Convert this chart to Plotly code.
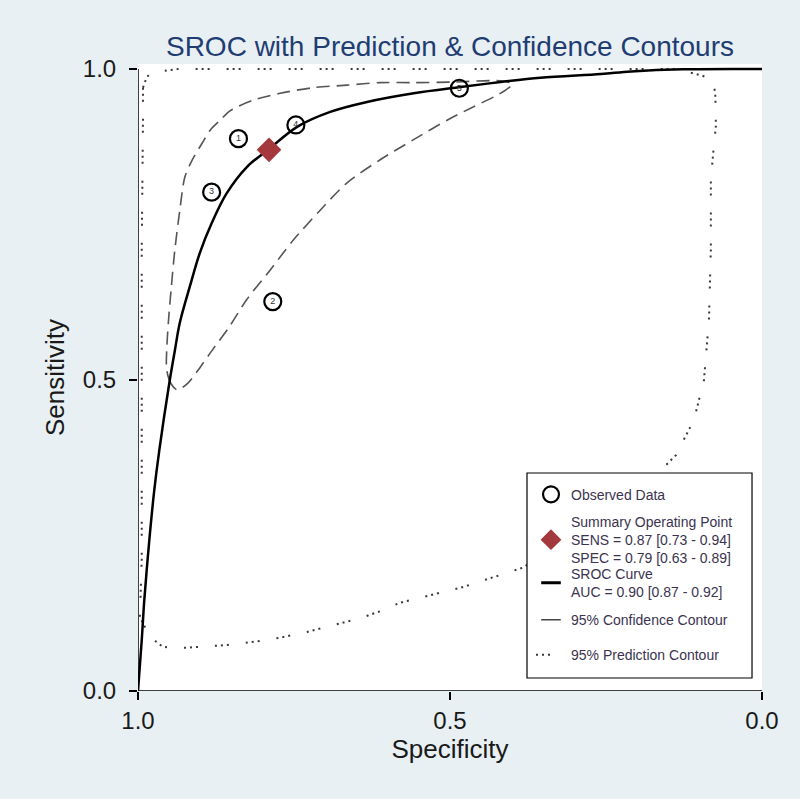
import plotly.graph_objects as go

# ---------------- data ----------------
study_ids = ["1", "2", "3", "4", "5"]
obs_spec = [0.839, 0.784, 0.882, 0.747, 0.485]
obs_sens = [0.888, 0.626, 0.802, 0.910, 0.969]

summary_spec = [0.79]
summary_sens = [0.87]
sens_text = "SENS = 0.87 [0.73 - 0.94]"
spec_text = "SPEC = 0.79 [0.63 - 0.89]"
auc_text = "AUC = 0.90 [0.87 - 0.92]"

sroc_spec = [1.0, 0.994, 0.990, 0.982, 0.974, 0.966, 0.950, 0.941, 0.933, 0.917, 0.901,
             0.882, 0.858, 0.826, 0.788, 0.745, 0.692, 0.633, 0.558, 0.483, 0.419,
             0.355, 0.258, 0.210, 0.127, 0.0]
sroc_sens = [0.0, 0.082, 0.145, 0.241, 0.322, 0.386, 0.494, 0.547, 0.592, 0.650, 0.704,
             0.752, 0.800, 0.842, 0.873, 0.907, 0.931, 0.947, 0.961, 0.971, 0.979,
             0.986, 0.992, 0.996, 0.9995, 1.0]

conf_spec = [0.937, 0.947, 0.954, 0.954, 0.951, 0.947, 0.941, 0.933, 0.925, 0.913, 0.897,
             0.884, 0.868, 0.852, 0.815, 0.772, 0.719, 0.665, 0.612, 0.559, 0.494, 0.419,
             0.400, 0.411, 0.430, 0.467, 0.504, 0.559, 0.612, 0.665, 0.708, 0.751, 0.788,
             0.826, 0.854, 0.881, 0.900, 0.920, 0.937]
conf_sens = [0.484, 0.494, 0.516, 0.548, 0.597, 0.645, 0.709, 0.773, 0.826, 0.854, 0.881,
             0.902, 0.918, 0.933, 0.950, 0.961, 0.970, 0.974, 0.978, 0.978, 0.979, 0.981,
             0.976, 0.966, 0.955, 0.937, 0.918, 0.886, 0.854, 0.817, 0.773, 0.725, 0.677,
             0.629, 0.585, 0.548, 0.521, 0.495, 0.484]

pred_spec = [0.992, 0.986, 0.978, 0.960, 0.936, 0.130, 0.119, 0.098, 0.087, 0.079, 0.075,
             0.074, 0.074, 0.077, 0.079, 0.082, 0.082, 0.085, 0.093, 0.109, 0.138, 0.178,
             0.258, 0.384, 0.483, 0.580, 0.607, 0.644, 0.687, 0.729, 0.761, 0.793, 0.832,
             0.857, 0.901, 0.933, 0.960, 0.981, 0.997, 0.994, 0.994, 0.994, 0.992, 0.992]
pred_sens = [0.970, 0.987, 0.994, 0.997, 1.0, 1.0, 0.995, 0.990, 0.986, 0.978, 0.963,
             0.929, 0.907, 0.878, 0.854, 0.822, 0.709, 0.597, 0.500, 0.436, 0.379, 0.339,
             0.275, 0.198, 0.166, 0.142, 0.130, 0.117, 0.106, 0.095, 0.088, 0.082, 0.077,
             0.074, 0.071, 0.069, 0.071, 0.087, 0.119, 0.211, 0.468, 0.709, 0.918, 0.970]

tick_vals = [0.0, 0.5, 1.0]
tick_text = ["0.0", "0.5", "1.0"]

# ---------------- styling ----------------
BG = "#e8f0f4"
FONT = "Arial, 'Liberation Sans', sans-serif"
LEG_COLOR = "#3b3350"
LEG_FONT = dict(size=14, color=LEG_COLOR, family=FONT)
PRED_DASH = "2px,4px,2px,4px,2px,17px"

# legend layout (paper coordinates of the plotting area)
leg_x = 0.6298
leg_item_y = [0.313, 0.241, 0.172, 0.113, 0.057]   # one legend per entry
leg_box = dict(x0=0.6234, x1=0.984, y0=0.0207, y1=0.3477)

fig = go.Figure()

fig.add_trace(go.Scatter(
    x=pred_spec, y=pred_sens, mode="lines", name="95% Prediction Contour",
    line=dict(color="#3a3a3a", width=2, dash=PRED_DASH),
    legend="legend5"))

fig.add_trace(go.Scatter(
    x=conf_spec, y=conf_sens, mode="lines", name="95% Confidence Contour",
    line=dict(color="#555555", width=1.6, dash="13px,7px", shape="spline", smoothing=0.8),
    showlegend=False))

fig.add_trace(go.Scatter(
    x=sroc_spec, y=sroc_sens, mode="lines", name="SROC Curve",
    line=dict(color="black", width=2.5, shape="spline", smoothing=1.0),
    showlegend=False))

fig.add_trace(go.Scatter(
    x=obs_spec, y=obs_sens, mode="markers", name="Observed Data",
    marker=dict(symbol="circle-open", size=17, color="black", line=dict(width=2.2)),
    cliponaxis=False, legend="legend"))

fig.add_trace(go.Scatter(
    x=obs_spec, y=obs_sens, mode="text", text=study_ids, showlegend=False,
    textfont=dict(size=9, color="#333333", family=FONT), textposition="middle center",
    cliponaxis=False))

fig.add_trace(go.Scatter(
    x=summary_spec, y=summary_sens, mode="markers",
    name="Summary Operating Point<br>" + sens_text + "<br>" + spec_text,
    marker=dict(symbol="diamond", size=19, color="#a3383d"),
    legend="legend2"))

# legend-only keys with short line symbols (as in the original legend)
fig.add_trace(go.Scatter(
    x=[None], y=[None], mode="markers", name="SROC Curve<br>" + auc_text,
    marker=dict(symbol="line-ew-open", size=14, color="black", line=dict(width=3, color="black")),
    legend="legend3"))
fig.add_trace(go.Scatter(
    x=[None], y=[None], mode="markers", name="95% Confidence Contour",
    marker=dict(symbol="line-ew-open", size=14, color="#444444", line=dict(width=1.6, color="#444444")),
    legend="legend4"))

axis_common = dict(
    showgrid=False, zeroline=False, showline=False,
    ticks="outside", ticklen=8, tickwidth=1.5, tickcolor="black",
    tickvals=tick_vals, ticktext=tick_text,
    tickfont=dict(size=24, color="#1a1a1a", family=FONT),
)

fig.update_xaxes(range=[1.0, 0.0], **axis_common, ticklabelstandoff=0,
                 title=dict(text="Specificity", font=dict(size=26, color="#1a1a1a", family=FONT), standoff=2))
fig.update_yaxes(range=[0.0, 1.008], **axis_common, ticklabelstandoff=8,
                 title=dict(text="Sensitivity", font=dict(size=26, color="#1a1a1a", family=FONT), standoff=10))

# axis lines spanning the tick range only
fig.add_shape(type="line", xref="x", yref="y", x0=1.0, x1=1.0, y0=0.0, y1=1.0,
              line=dict(color="black", width=1.5))
fig.add_shape(type="line", xref="x", yref="y", x0=1.0, x1=0.0, y0=0.0, y1=0.0,
              line=dict(color="black", width=1.5))
# legend frame
fig.add_shape(type="rect", xref="paper", yref="paper", layer="above",
              fillcolor="white", line=dict(color="black", width=1.2), **leg_box)

legend_defs = {}
for i, key in enumerate(["legend", "legend2", "legend3", "legend4", "legend5"]):
    legend_defs[key] = dict(x=leg_x, y=leg_item_y[i], xanchor="left", yanchor="middle",
                            bgcolor="rgba(0,0,0,0)", borderwidth=0, font=LEG_FONT,
                            itemwidth=30)

fig.update_layout(
    width=800, height=799,
    margin=dict(l=138, r=38, t=64, b=108),
    paper_bgcolor=BG, plot_bgcolor="white",
    font=dict(family=FONT),
    title=dict(text="SROC with Prediction & Confidence Contours",
               font=dict(size=28, color="#1f3d73", family=FONT),
               x=0.5625, xref="container", xanchor="center",
               y=1 - 46 / 799, yref="container", yanchor="middle"),
    showlegend=True,
    **legend_defs,
)

fig.write_html("out.html", config={"displayModeBar": False},
               post_script="document.body.style.margin='0px';")
